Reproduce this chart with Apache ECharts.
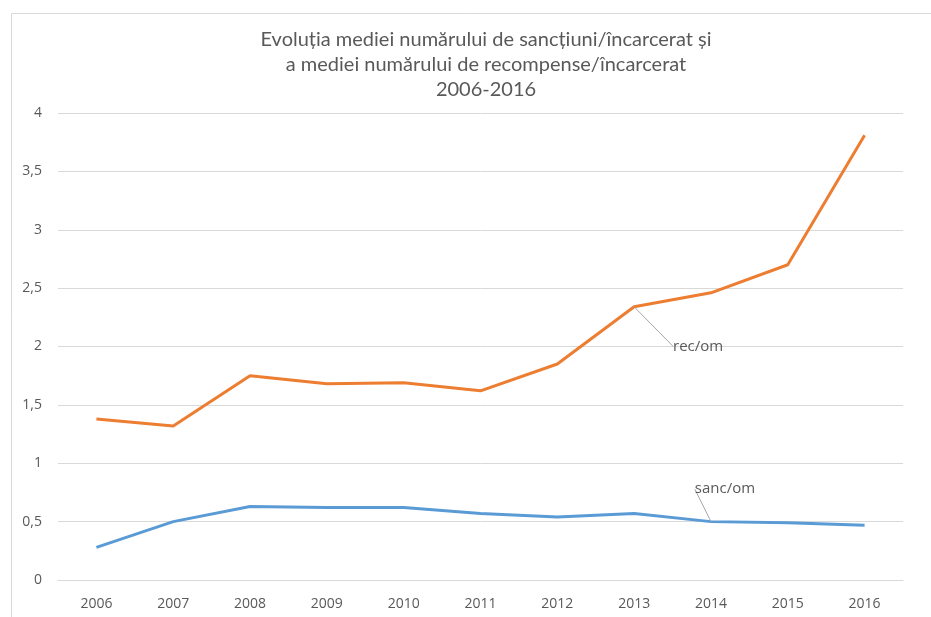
<!DOCTYPE html>
<html>
<head>
<meta charset="utf-8">
<script src="https://cdn.jsdelivr.net/npm/echarts@6/dist/echarts.min.js"></script>
<style>html,body{margin:0;padding:0;background:#fff}#c{width:931px;height:617px}</style>
</head>
<body>
<div id="c"></div>
<script>
var years = ['2006','2007','2008','2009','2010','2011','2012','2013','2014','2015','2016'];
var recOm = [1.38, 1.32, 1.75, 1.68, 1.69, 1.62, 1.85, 2.34, 2.46, 2.70, 3.81];
var sancOm = [0.28, 0.50, 0.63, 0.62, 0.62, 0.57, 0.54, 0.57, 0.50, 0.49, 0.47];
var yTicks = [0, 0.5, 1, 1.5, 2, 2.5, 3, 3.5, 4];
var titleText = 'Evoluția mediei numărului de sancțiuni/încarcerat și\na mediei numărului de recompense/încarcerat\n2006-2016';

var chart = echarts.init(document.getElementById('c'));
var font = '"Open Sans", "Liberation Sans", sans-serif';
function mkData(arr, idx, name) {
  return arr.map(function (v, i) {
    if (i === idx) {
      return { value: v, label: { show: true, formatter: name } };
    }
    return v;
  });
}
chart.setOption({
  animation: false,
  title: {
    text: titleText,
    left: 481,
    textAlign: 'center',
    top: 22,
    textStyle: { fontFamily: 'Lato, "Open Sans", sans-serif', fontSize: 20, fontWeight: 'normal', color: '#595959', lineHeight: 25 }
  },
  grid: { left: 58, right: 28, top: 113, bottom: 37 },
  xAxis: {
    type: 'category',
    data: years,
    boundaryGap: true,
    axisLine: { show: true, lineStyle: { color: '#d9d9d9', width: 1 } },
    axisTick: { show: false },
    axisLabel: { fontFamily: font, fontSize: 14, color: '#595959', margin: 17 }
  },
  yAxis: {
    type: 'value',
    min: 0, max: 4, interval: 0.5,
    axisLine: { show: false },
    axisTick: { show: false },
    splitLine: { lineStyle: { color: '#d9d9d9', width: 1 } },
    axisLabel: {
      fontFamily: font, fontSize: 14, color: '#595959', margin: 16,
      formatter: function (v) { return yTicks.indexOf(v) >= 0 ? String(v).replace('.', ',') : ''; }
    }
  },
  series: [
    {
      name: 'rec/om', type: 'line', data: mkData(recOm, 7, 'rec/om'),
      symbol: 'circle', symbolSize: 0, showSymbol: true,
      lineStyle: { color: '#ED7D31', width: 3 }, itemStyle: { color: '#ED7D31' },
      label: { show: false, fontFamily: font, fontSize: 15, color: '#595959' },
      labelLine: { show: true, lineStyle: { color: '#a6a6a6', width: 1 } },
      labelLayout: function (p) { return { dx: 64, dy: 52 }; }
    },
    {
      name: 'sanc/om', type: 'line', data: mkData(sancOm, 8, 'sanc/om'),
      symbol: 'circle', symbolSize: 0, showSymbol: true,
      lineStyle: { color: '#5B9BD5', width: 3 }, itemStyle: { color: '#5B9BD5' },
      label: { show: false, fontFamily: font, fontSize: 15, color: '#595959' },
      labelLine: { show: true, lineStyle: { color: '#a6a6a6', width: 1 } },
      labelLayout: function (p) { return { dx: 14, dy: -20 }; }
    }
  ],
  graphic: [
    { type: 'line', shape: { x1: 11.5, y1: 13.5, x2: 931, y2: 13.5 }, style: { stroke: '#d9d9d9', lineWidth: 1 } },
    { type: 'line', shape: { x1: 11.5, y1: 13.5, x2: 11.5, y2: 617 }, style: { stroke: '#d9d9d9', lineWidth: 1 } }
  ]
});
</script>
</body>
</html>
